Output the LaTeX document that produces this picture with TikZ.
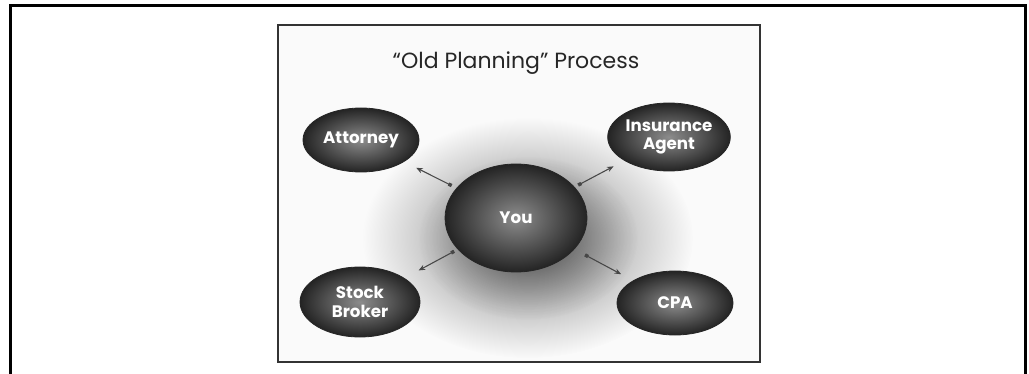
\documentclass[tikz,border=0pt]{standalone}
\usepackage{fontspec}
\setmainfont{Poppins}
\usetikzlibrary{shapes.geometric,arrows.meta,fadings}
\tikzfading[name=glowfade, inner color=transparent!0, outer color=transparent!100]
\tikzset{
  ball/.style={ellipse, draw=black!85, line width=0.6pt,
    shade, inner color=black!45, outer color=black!86,
    text=white, font=\fontsize{12.5}{14}\selectfont\bfseries, align=center, inner sep=0pt},
  conn/.style={draw=black!72, line width=0.8pt,
    {Square[length=2.6pt,width=2.6pt]}-{Stealth[length=5pt,width=4pt]}},
  titletext/.style={text=black!85, font=\fontsize{16.5}{19}\selectfont}
}
\begin{document}
\begin{tikzpicture}[x=0.75pt,y=-0.75pt]
\useasboundingbox (0,0) rectangle (1029,374);
\fill[white] (0,0) rectangle (1029,374);
\draw[line width=2.25pt, black] (10.5,374) -- (10.5,6) -- (1025,6) -- (1025,374);
\begin{scope}
  \clip (278,25) rectangle (760,362);
  \fill[black!2] (278,25) rectangle (760,362);
  \fill[black, fill opacity=0.5, path fading=glowfade, fit fading=true] (528,238) ellipse [x radius=165, y radius=120];
  \fill[black, fill opacity=0.45, path fading=glowfade, fit fading=true] (528,238) ellipse [x radius=110, y radius=82];
\end{scope}
\draw[line width=1.5pt, black!80] (278,25) rectangle (760,362);
\node[titletext] (title) at (516,63) {“Old Planning” Process};
\node[ball, minimum width=142*0.75pt, minimum height=108*0.75pt] (you) at (516,218) {You};
\node[ball, minimum width=116*0.75pt, minimum height=64*0.75pt] (att) at (361,140) {Attorney};
\node[ball, minimum width=120*0.75pt, minimum height=70*0.75pt] (sb) at (360,302) {Stock\\Broker};
\node[ball, minimum width=122*0.75pt, minimum height=68*0.75pt] (ia) at (669,137) {Insurance\\Agent};
\node[ball, minimum width=116*0.75pt, minimum height=64*0.75pt] (cpa) at (675,303) {CPA};
\draw[conn, shorten <=4pt, shorten >=10pt] (you) -- (att);
\draw[conn, shorten <=3pt, shorten >=12pt] (you) -- (sb);
\draw[conn, shorten <=3pt, shorten >=9pt] (you) -- (ia);
\draw[conn, shorten <=9pt, shorten >=10pt] (you) -- (cpa);
\end{tikzpicture}
\end{document}
